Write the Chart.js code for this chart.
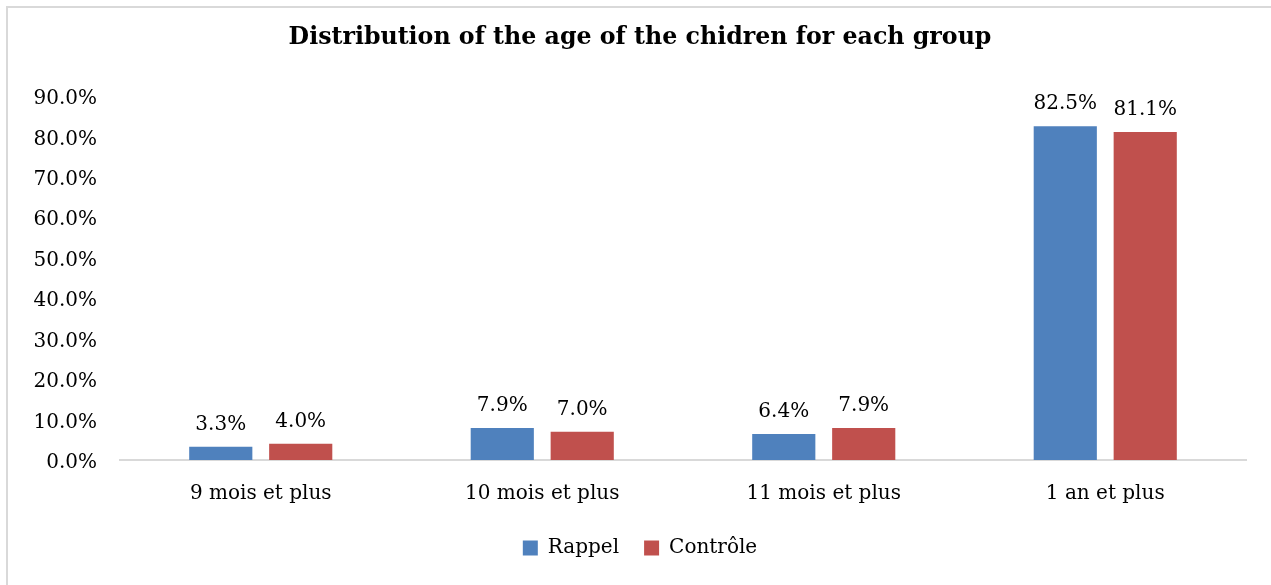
<!DOCTYPE html>
<html>
<head>
<meta charset="utf-8">
<title>Distribution of the age</title>
<script src="https://cdn.jsdelivr.net/npm/chart.js@4.4.1/dist/chart.umd.min.js"></script>
<style>
  html, body { margin: 0; padding: 0; background: #fff; }
  #wrap { position: relative; width: 1271px; height: 585px; overflow: hidden; }
  #frame { position: absolute; left: 6px; top: 6px; width: 1300px; height: 620px;
           border-left: 2px solid #d9d9d9; border-top: 2px solid #d9d9d9; }
  canvas { position: absolute; left: 0; top: 0; }
</style>
</head>
<body>
<div id="wrap">
  <div id="frame"></div>
  <canvas id="mycanvas" width="1271" height="585"></canvas>
</div>
<script>
var groups = ['9 mois et plus', '10 mois et plus', '11 mois et plus', '1 an et plus'];
var rappel = [3.3, 7.9, 6.4, 82.5];
var controle = [4.0, 7.0, 7.9, 81.1];
var yTicks = [0, 10, 20, 30, 40, 50, 60, 70, 80, 90];

var serif = "'DejaVu Serif', serif";

// values printed above each bar
var barValues = {
	id: 'barValues',
	afterDatasetsDraw: function(chart) {
		var ctx = chart.ctx;
		ctx.save();
		ctx.font = '20px ' + serif;
		ctx.fillStyle = '#000';
		ctx.textAlign = 'center';
		ctx.textBaseline = 'alphabetic';
		chart.data.datasets.forEach(function(ds, i) {
			chart.getDatasetMeta(i).data.forEach(function(bar, j) {
				ctx.fillText(ds.data[j].toFixed(1) + '%', bar.x, bar.y - 17);
			});
		});
		ctx.restore();
	}
};

var chartdata = {
	labels: groups,
	datasets: [
		{
			label: 'Rappel',
			backgroundColor: '#4f81bd',
			data: rappel
		},
		{
			label: 'Contrôle',
			backgroundColor: '#c0504d',
			data: controle
		}
	]
};

var ctx = document.getElementById('mycanvas');

var barGraph = new Chart(ctx, {
	type: 'bar',
	data: chartdata,
	plugins: [barValues],
	options: {
		responsive: false,
		animation: false,
		categoryPercentage: 0.568,
		barPercentage: 0.79,
		layout: { padding: { left: 34, right: 25, top: 0, bottom: 17 } },
		plugins: {
			tooltip: { enabled: false },
			title: {
				display: true,
				text: 'Distribution of the age of the chidren for each group',
				color: '#000',
				font: { family: serif, size: 23.7, weight: 'bold' },
				padding: { top: 24, bottom: 43.5 }
			},
			legend: {
				position: 'bottom',
				labels: {
					color: '#000',
					font: { family: serif, size: 20 },
					boxWidth: 15,
					boxHeight: 15,
					padding: 25
				}
			}
		},
		scales: {
			x: {
				afterFit: function(scale) { scale.height = 53; },
				grid: { display: false, drawTicks: false },
				border: { display: true, color: '#d9d9d9', width: 2 },
				ticks: { color: '#000', font: { family: serif, size: 20 }, padding: 22 }
			},
			y: {
				min: 0,
				max: 90,
				afterBuildTicks: function(scale) {
					scale.ticks = yTicks.map(function(v) { return { value: v }; });
				},
				afterFit: function(scale) { scale.width = 86; },
				grid: { display: false, drawTicks: false },
				border: { display: false },
				ticks: {
					color: '#000',
					font: { family: serif, size: 20 },
					padding: 23,
					labelOffset: 3,
					callback: function(v) { return v.toFixed(1) + '%'; }
				}
			}
		}
	}
});
</script>
</body>
</html>
